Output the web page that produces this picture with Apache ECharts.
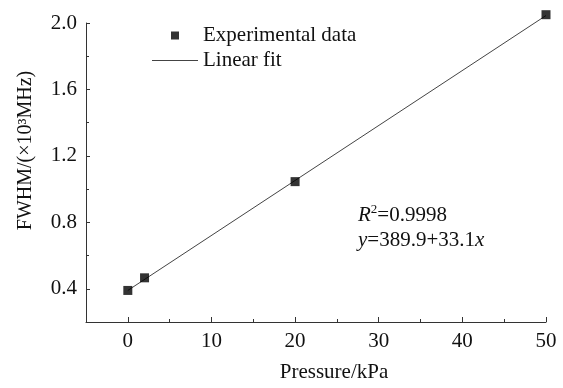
<!DOCTYPE html>
<html>
<head>
<meta charset="utf-8">
<script src="https://cdn.jsdelivr.net/npm/echarts@6/dist/echarts.min.js"></script>
<style>
  html, body { margin: 0; padding: 0; background: #fff; }
  #main { width: 563px; height: 388px; }
</style>
</head>
<body>
<div id="main"></div>
<script>
// 实验数据 (Pressure/kPa, FWHM ×10^3 MHz)
var pressure = [0, 2, 20, 50]
var fwhm = [0.39, 0.466, 1.045, 2.05]
// 线性拟合端点
var fitX = [0, 50]
var fitY = [0.39, 2.045]
// 刻度
var xMajor = [0, 10, 20, 30, 40, 50]
var xMinor = [5, 15, 25, 35, 45]
var yMajor = [0.4, 0.8, 1.2, 1.6, 2.0]
var yMinor = [0.6, 1.0, 1.4, 1.8]

var font = 'Liberation Serif'
var ink = '#111'
var axisColor = '#333'

var myChart = echarts.init(document.getElementById('main'))

function pairs (xs, ys) {
  var out = []
  for (var i = 0; i < xs.length; i++) out.push([xs[i], ys[i]])
  return out
}

var option = {
  animation: false,
  backgroundColor: '#fff',
  grid: { left: 86, right: 17, top: 23, bottom: 64 },
  legend: {
    orient: 'vertical',
    left: 147,
    top: 20,
    itemWidth: 46,
    itemHeight: 8,
    itemGap: 4,
    symbolKeepAspect: true,
    textStyle: { fontFamily: font, fontSize: 21, color: ink },
    data: [
      { name: 'Experimental data', icon: 'path://M0,0h10v10h-10z' },
      { name: 'Linear fit', icon: 'path://M0,0h46v1h-46z' }
    ]
  },
  xAxis: [
    {
      type: 'value',
      min: -5,
      max: 50,
      interval: 5,
      name: 'Pressure/kPa',
      nameLocation: 'middle',
      nameGap: 40,
      nameTextStyle: { fontFamily: font, fontSize: 21, color: ink, padding: [0, 0, 0, 36] },
      axisLine: { onZero: false, lineStyle: { color: axisColor, width: 1 } },
      axisTick: { inside: true, length: 5, customValues: xMajor, lineStyle: { color: axisColor } },
      axisLabel: { customValues: xMajor, fontFamily: font, fontSize: 21, color: ink, margin: 9 },
      splitLine: { show: false }
    },
    {
      type: 'value',
      min: -5,
      max: 50,
      interval: 5,
      position: 'bottom',
      axisLine: { show: false, onZero: false },
      axisTick: { inside: true, length: 3, customValues: xMinor, lineStyle: { color: axisColor } },
      axisLabel: { show: false },
      splitLine: { show: false }
    }
  ],
  yAxis: [
    {
      type: 'value',
      min: 0.2,
      max: 2.0,
      interval: 0.2,
      name: 'FWHM/(×10³MHz)',
      nameLocation: 'middle',
      nameGap: 50,
      nameTextStyle: { fontFamily: font, fontSize: 20, color: ink, padding: [0, 0, 0, 44] },
      axisLine: { onZero: false, lineStyle: { color: axisColor, width: 1 } },
      axisTick: { inside: true, length: 4, customValues: yMajor, lineStyle: { color: axisColor } },
      axisLabel: {
        customValues: yMajor,
        fontFamily: font,
        fontSize: 21,
        color: ink,
        margin: 9,
        formatter: function (v) { return v.toFixed(1) }
      },
      splitLine: { show: false }
    },
    {
      type: 'value',
      min: 0.2,
      max: 2.0,
      interval: 0.2,
      position: 'left',
      axisLine: { show: false, onZero: false },
      axisTick: { inside: true, length: 3, customValues: yMinor, lineStyle: { color: axisColor } },
      axisLabel: { show: false },
      splitLine: { show: false }
    }
  ],
  graphic: [
    {
      type: 'text',
      left: 358,
      top: 203,
      style: {
        text: '{i|R}{s|2}=0.9998\n{i|y}=389.9+33.1{i|x}',
        fontFamily: font,
        fontSize: 21,
        fill: ink,
        lineHeight: 25,
        rich: {
          i: { fontFamily: font, fontSize: 21, fontStyle: 'italic', fill: ink, lineHeight: 25 },
          s: { fontFamily: font, fontSize: 13, fill: ink, verticalAlign: 'top', lineHeight: 25 }
        }
      }
    }
  ],
  series: [
    {
      name: 'Linear fit',
      type: 'line',
      data: pairs(fitX, fitY),
      showSymbol: false,
      symbol: 'none',
      clip: false,
      lineStyle: { color: '#444', width: 1 },
      itemStyle: { color: '#444' },
      z: 2
    },
    {
      name: 'Experimental data',
      type: 'scatter',
      data: pairs(pressure, fwhm),
      symbol: 'rect',
      symbolSize: 9,
      clip: false,
      itemStyle: { color: '#000' },
      z: 3
    }
  ]
}

myChart.setOption(option)
</script>
</body>
</html>
